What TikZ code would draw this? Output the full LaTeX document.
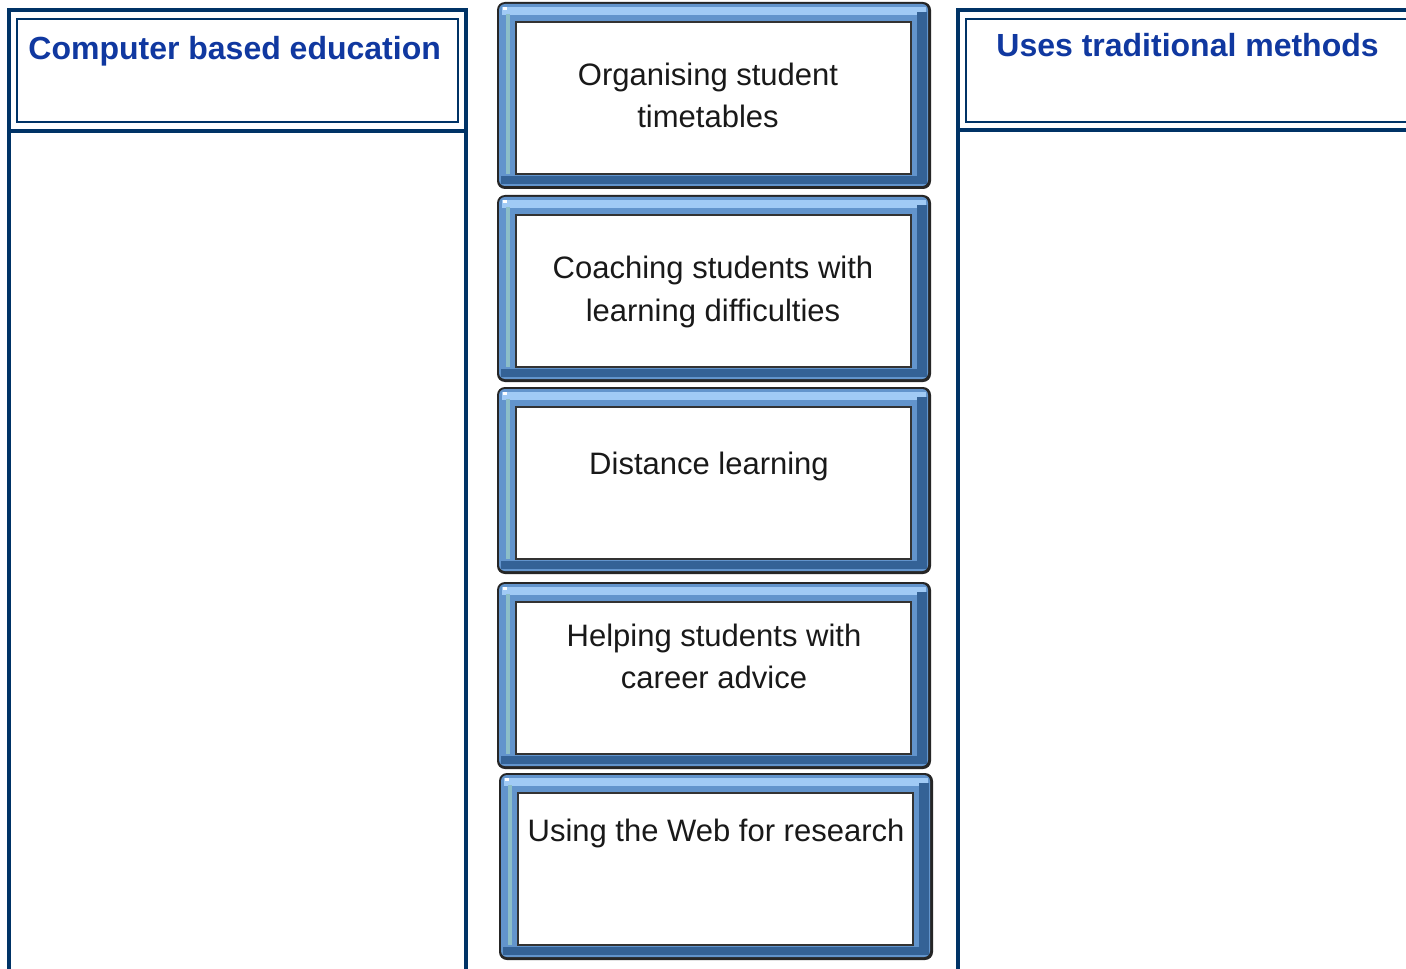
\documentclass[tikz,border=0pt]{standalone}
\usepackage{fontspec}
\setmainfont{Liberation Sans}
\usepackage{xcolor}
\definecolor{navyframe}{RGB}{0,51,102}
\definecolor{headblue}{RGB}{16,56,160}
\definecolor{bevelmid}{RGB}{98,148,204}
\definecolor{bevellight}{RGB}{160,202,245}
\definecolor{bevelleft}{RGB}{140,190,200}
\definecolor{beveldark}{RGB}{52,98,150}
\definecolor{textgray}{RGB}{25,25,25}

\begin{document}
\begin{tikzpicture}[
    x=0.5pt, y=-0.5pt,
    column/.style={draw=navyframe, line width=2pt},
    headbox/.style={draw=navyframe, line width=1pt},
    colhead/.style={anchor=base west, inner sep=0pt, text=headblue,
                    font=\fontsize{16}{19}\selectfont\bfseries},
    card/.style={draw=black!80, fill=white, line width=0.6pt, inner sep=0pt,
                 minimum width=197.5pt, minimum height=76pt},
    cardtext/.style={anchor=base, inner sep=0pt, align=center, text=textgray,
                     font=\fontsize{15.5}{21}\selectfont}
]
\useasboundingbox (0,0) rectangle (1406,968);
\clip (0,0) rectangle (1406,968);
\fill[white] (0,0) rectangle (1406,968);

% left column
\draw[column] (9,990) -- (9,10) -- (466,10) -- (466,990);
\draw[column] (9,131) -- (466,131);
\draw[headbox] (17,19) rectangle (458,122);
\node[colhead] (cbe) at (28,60) {Computer based education};

% right column
\draw[column] (958,990) -- (958,10) -- (1430,10);
\draw[column] (958,130) -- (1430,130);
\draw[headbox] (966,19) rectangle (1430,122);
\node[colhead] (trad) at (996,57) {Uses traditional methods};

% middle cards (text y = baseline of last line)
\foreach \x/\top/\tx/\ty/\txt/\nm in {
    714/2/708/126/{Organising student\\timetables}/org,
    714/195/713/126/{Coaching students with\\learning difficulties}/coach,
    714/387/709/87/{Distance learning}/dist,
    714/582/714/106/{Helping students with\\career advice}/career,
    716/773/716/68/{Using the Web for research}/web} {
  \fill[black!85, rounded corners=4pt] (\x-217,\top) rectangle (\x+217,\top+187);
  \fill[bevelmid, rounded corners=3pt] (\x-215,\top+2) rectangle (\x+214,\top+184);
  \fill[bevellight] (\x-212,\top+5) rectangle (\x+212,\top+13);
  \fill[beveldark] (\x+203,\top+10) rectangle (\x+213,\top+182);
  \fill[beveldark] (\x-213,\top+174) rectangle (\x+213,\top+182);
  \fill[bevelleft] (\x-208,\top+12) rectangle (\x-204,\top+172);
  \fill[white] (\x-211,\top+5) rectangle (\x-207,\top+8);
  \node[card] (\nm) at (\x-0.5,\top+96) {};
  \node[cardtext] (\nm txt) at (\tx,\top+\ty) {\txt};
}
\end{tikzpicture}
\end{document}
